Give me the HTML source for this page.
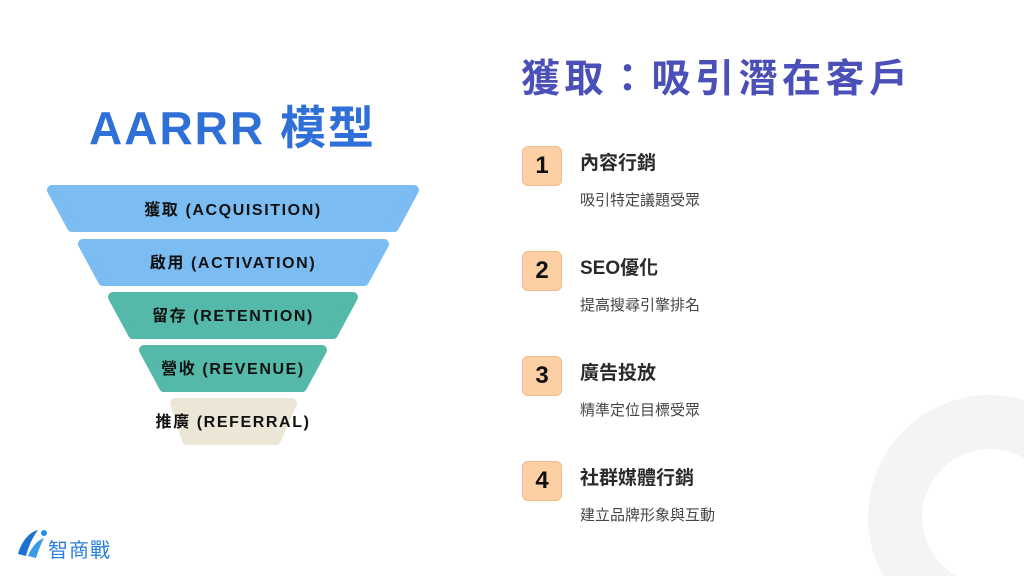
<!DOCTYPE html>
<html><head><meta charset="utf-8"><style>
html,body{margin:0;width:1024px;height:576px;overflow:hidden}
body{background:#fff;position:relative;font-family:"Liberation Sans","Noto Sans CJK TC",sans-serif}
.t{position:absolute;white-space:nowrap}
.badge{position:absolute;left:522px;width:38px;height:38px;background:#fccfa4;border:1px solid #f0bb8a;border-radius:6px;font:bold 24px "Liberation Sans",sans-serif;color:#111;text-align:center;line-height:38px}
.h{position:absolute;left:580px;font-size:19px;font-weight:bold;color:#2a2a2a}
.s{position:absolute;left:580px;font-size:15px;color:#444}
</style></head><body>
<svg width="1024" height="576" style="position:absolute;left:0;top:0">
<circle cx="990" cy="517" r="95" fill="none" stroke="#f4f4f4" stroke-width="54"/>
<g stroke-linejoin="round" stroke-width="10">
<polygon points="52,190 414,190 394,227 72,227" fill="#7bbcf2" stroke="#7bbcf2"/>
<polygon points="83,244 384,244 364,281 103,281" fill="#7bbcf2" stroke="#7bbcf2"/>
<polygon points="113,297 353,297 333,334 133,334" fill="#55b9a9" stroke="#55b9a9"/>
<polygon points="144,350 322,350 302,387 164,387" fill="#55b9a9" stroke="#55b9a9"/>
<polygon points="175,403 292,403 276,440 187,440" fill="#ebe6d6" stroke="#ebe6d6"/>
</g>
<g font-family="Liberation Sans,Noto Sans CJK TC,sans-serif" font-weight="bold" font-size="16" fill="#111" text-anchor="middle" letter-spacing="1.6">
<text x="233" y="215">獲取 (ACQUISITION)</text>
<text x="233" y="268">啟用 (ACTIVATION)</text>
<text x="233" y="321">留存 (RETENTION)</text>
<text x="233" y="374">營收 (REVENUE)</text>
<text x="233" y="427">推廣 (REFERRAL)</text>
</g>
</svg>
<div class="t" style="left:89px;top:92px;font-size:46px;font-weight:bold;color:#2f6fd8;letter-spacing:2px">AARRR 模型</div>
<div class="t" style="left:521px;top:48px;font-size:39px;font-weight:bold;color:#4a50b8;letter-spacing:4.5px">獲取：吸引潛在客戶</div>
<div class="badge" style="top:146px">1</div><div class="h" style="top:148px">內容行銷</div><div class="s" style="top:189px">吸引特定議題受眾</div>
<div class="badge" style="top:251px">2</div><div class="h" style="top:253px">SEO優化</div><div class="s" style="top:294px">提高搜尋引擎排名</div>
<div class="badge" style="top:356px">3</div><div class="h" style="top:358px">廣告投放</div><div class="s" style="top:399px">精準定位目標受眾</div>
<div class="badge" style="top:461px">4</div><div class="h" style="top:463px">社群媒體行銷</div><div class="s" style="top:504px">建立品牌形象與互動</div>
<svg width="36" height="36" style="position:absolute;left:14px;top:526px"><path d="M4,28 C8,14 16,6 24,4 C18,12 14,22 12,30 Z" fill="#1d6fd0"/><path d="M14,30 C18,20 24,14 30,12 C26,20 24,26 22,32 Z" fill="#3a9be8"/><circle cx="30" cy="7" r="3" fill="#2a8de0"/></svg>
<div class="t" style="left:48px;top:534px;font-size:20px;color:#2a80e0;letter-spacing:1px">智商戰</div>
</body></html>
